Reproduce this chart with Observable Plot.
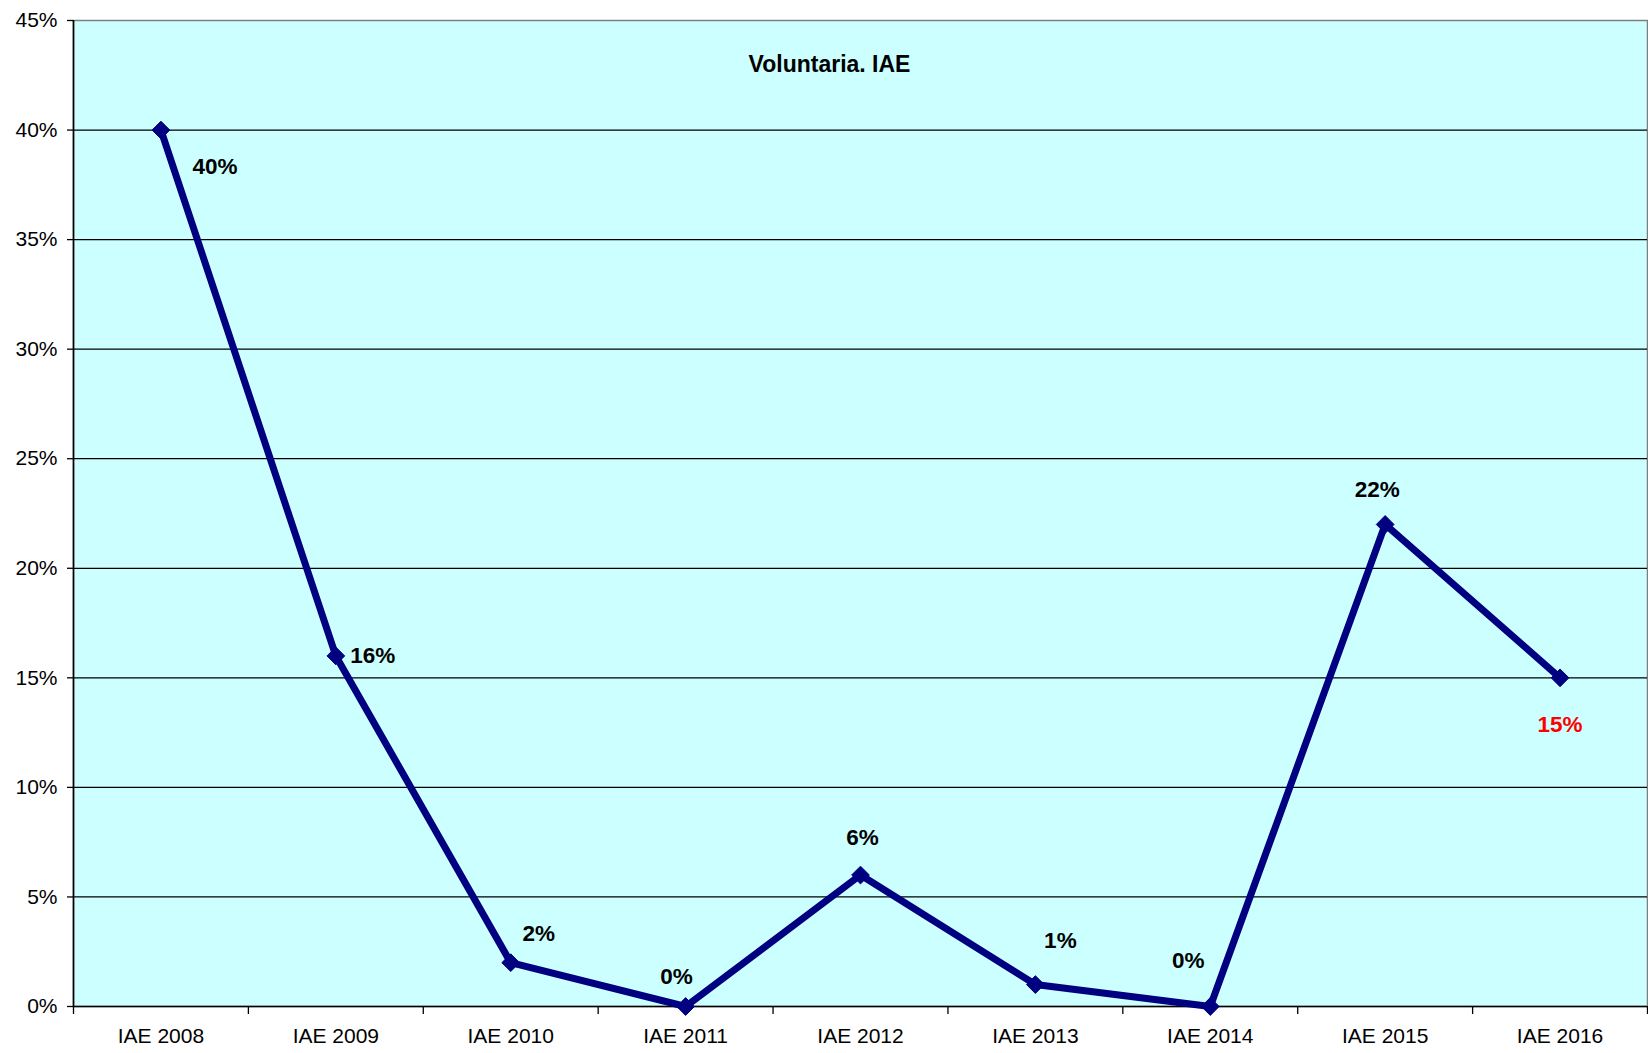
<!DOCTYPE html>
<html>
<head>
<meta charset="utf-8">
<script src="https://cdn.jsdelivr.net/npm/d3@7"></script>
<script src="https://cdn.jsdelivr.net/npm/@observablehq/plot@0.6"></script>
<style>
  html, body { margin: 0; padding: 0; background: #fff; }
  #chart svg { display: block; }
</style>
</head>
<body>
<div id="chart"></div>
<script>
// ---- data ----
const categories = ["IAE 2008", "IAE 2009", "IAE 2010", "IAE 2011", "IAE 2012", "IAE 2013", "IAE 2014", "IAE 2015", "IAE 2016"];
const values = [40, 16, 2, 0, 6, 1, 0, 22, 15]; // percent
const yTicks = [0, 5, 10, 15, 20, 25, 30, 35, 40, 45];
const title = "Voluntaria. IAE";

// ---- layout / style (not data) ----
const labelOffsets = [[54, 37], [37, 0], [28, -29], [-9, -30], [2, -37], [25, -44], [-22, -46], [-8, -35], [0, 47]];
const labelColors = ["#000", "#000", "#000", "#000", "#000", "#000", "#000", "#000", "#ff0000"];

const rows = categories.map((c, i) => ({ i, cat: c, v: values[i] / 100 }));
const idx = categories.map((_, i) => i);
const bounds = d3.range(categories.length + 1).map(k => k - 0.5);

const chart = Plot.plot({
  width: 1648,
  height: 1053,
  marginLeft: 73,
  marginRight: 1,
  marginTop: 20,
  marginBottom: 47,
  style: { fontFamily: "'Liberation Sans', Arial, sans-serif", background: "#fff", color: "#000" },
  x: { type: "linear", domain: [-0.5, categories.length - 0.5] },
  y: { domain: [0, 0.45] },
  marks: [
    Plot.frame({ fill: "#ccffff", stroke: "#7f7f7f", strokeWidth: 1.5 }),
    Plot.ruleY(yTicks.filter(t => t > 0 && t < 45).map(t => t / 100), { stroke: "#000", strokeWidth: 1.3 }),
    Plot.ruleY([0], { stroke: "#000", strokeWidth: 1.6 }),
    Plot.ruleX([-0.5], { stroke: "#000", strokeWidth: 1.6 }),
    Plot.axisY({ ticks: yTicks.map(t => t / 100), tickFormat: d => Math.round(d * 100) + "%", tickSize: 6, tickPadding: 10, fontSize: 21, stroke: "#000", strokeWidth: 1.3, label: null }),
    Plot.axisX({ ticks: bounds, tickFormat: () => "", tickSize: 8, stroke: "#000", strokeWidth: 1.3, label: null }),
    Plot.axisX({ ticks: idx, tickFormat: i => categories[i], tickSize: 0, tickPadding: 22, fontSize: 21, label: null }),
    Plot.text([title], { frameAnchor: "top", dx: -31, dy: 35, fontSize: 23, fontWeight: "bold", fill: "#000" }),
    Plot.line(rows, { x: "i", y: "v", stroke: "#000080", strokeWidth: 7, strokeLinejoin: "round" }),
    Plot.dot(rows, { x: "i", y: "v", symbol: "diamond2", r: 8, fill: "#000080", stroke: "#000080", strokeWidth: 1 }),
    ...rows.map((d, k) => Plot.text([d], {
      x: "i", y: "v",
      text: r => values[r.i] + "%",
      dx: labelOffsets[k][0], dy: labelOffsets[k][1],
      fontSize: 22.5, fontWeight: "bold", fill: labelColors[k]
    }))
  ]
});

document.getElementById("chart").appendChild(chart);
</script>
</body>
</html>
